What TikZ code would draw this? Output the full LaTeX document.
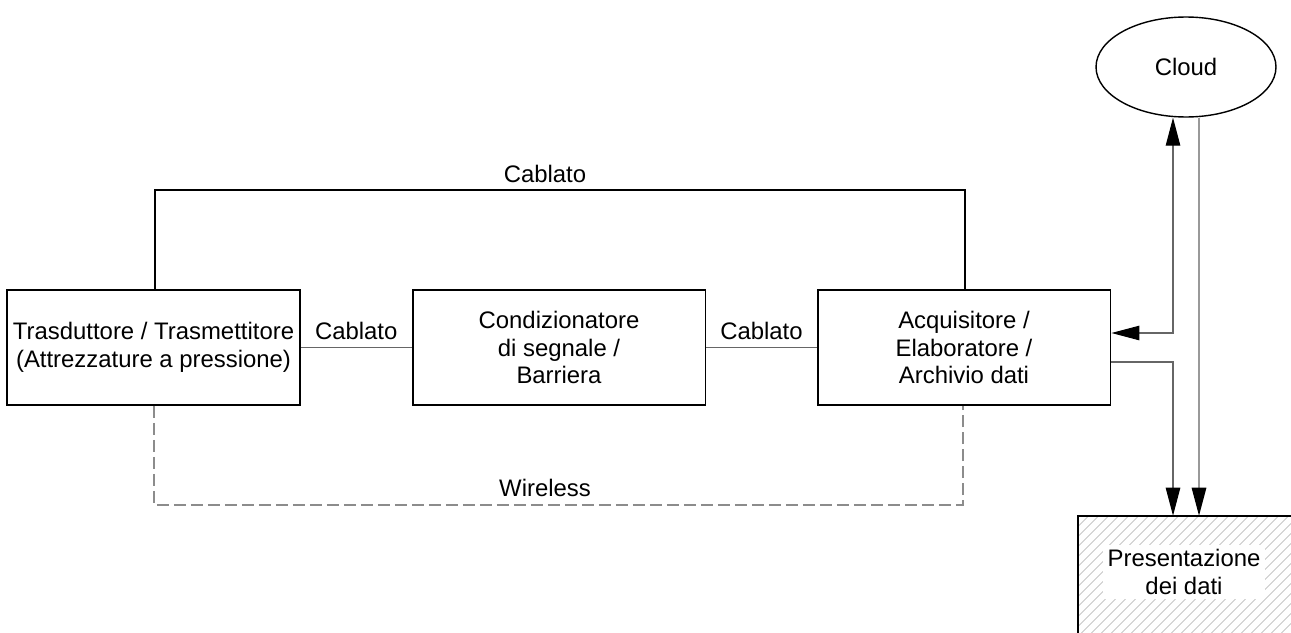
\documentclass[tikz,border=0pt]{standalone}
\usepackage{fontspec}
\setmainfont{Liberation Sans}
\usetikzlibrary{positioning,arrows.meta,calc,shapes.geometric,patterns.meta}

\begin{document}
\begin{tikzpicture}[
		x=0.02cm, y=-0.02cm,
		every node/.style={font=\fontsize{13.6}{15.7}\selectfont, align=center},
		block/.style={rectangle, draw=black, line width=1.1pt, minimum width=5.86cm, minimum height=2.3cm, inner sep=0pt},
		wire/.style={draw=black!60, line width=0.6pt},
		bus/.style={draw=black, line width=1pt},
		radio/.style={draw=black!45, line width=0.6pt, dash pattern=on 0.24cm off 0.1cm},
		>={Triangle[length=0.56cm,width=0.29cm,color=black]}
	]

		\useasboundingbox (0,0) rectangle (1291,632);
		\clip (0,0) rectangle (1291,632);

		% blocchi principali
		\node[block] (TR) at (153.5,347.5) {Trasduttore / Trasmettitore\\(Attrezzature a pressione)};
		\node[block] (CS) at (559,347.5) {Condizionatore\\di segnale /\\Barriera};
		\node[block] (AQ) at (964,347.5) {Acquisitore /\\Elaboratore /\\Archivio dati};
		\node[ellipse, draw=black, line width=0.8pt, minimum width=3.6cm, minimum height=2cm, inner sep=0pt] (CL) at (1186,67) {Cloud};
		\node[rectangle, draw=black, line width=1.1pt, pattern={Lines[angle=45,distance=4pt,line width=0.35pt]}, pattern color=black!45, minimum width=4.36cm, minimum height=2.48cm] (PD) at (1187,578) {};
		\node[fill=white, inner sep=2.5pt] (PDt) at (1184,572) {Presentazione\\dei dati};

		% collegamenti
		\draw[wire] (TR.east) -- node[above=1pt] (C1) {Cablato} (CS.west);
		\draw[wire] (CS.east) -- node[above=1pt] (C2) {Cablato} (AQ.west);
		\draw[bus] (TR.north -| 155,0) |- (965,190) -- (AQ.north -| 965,0);
		\node (C3) at (545,174) {Cablato};
		\draw[radio] (TR.south -| 154,0) |- (963,505) -- (AQ.south -| 963,0);
		\node (W) at (545,488) {Wireless};

		\coordinate (up) at (1173,333);
		\coordinate (dn) at (1173,362);
		\coordinate (rt) at (1199,0);
		\draw[wire,<->] (up -| AQ.east) -- (up) -- (up |- CL.south);
		\draw[wire,->] (dn -| AQ.east) -- (dn) -- (dn |- PD.north);
		\draw[draw=black!40, line width=0.8pt, ->] (rt |- CL.south) -- (rt |- PD.north);
	\end{tikzpicture}
\end{document}
